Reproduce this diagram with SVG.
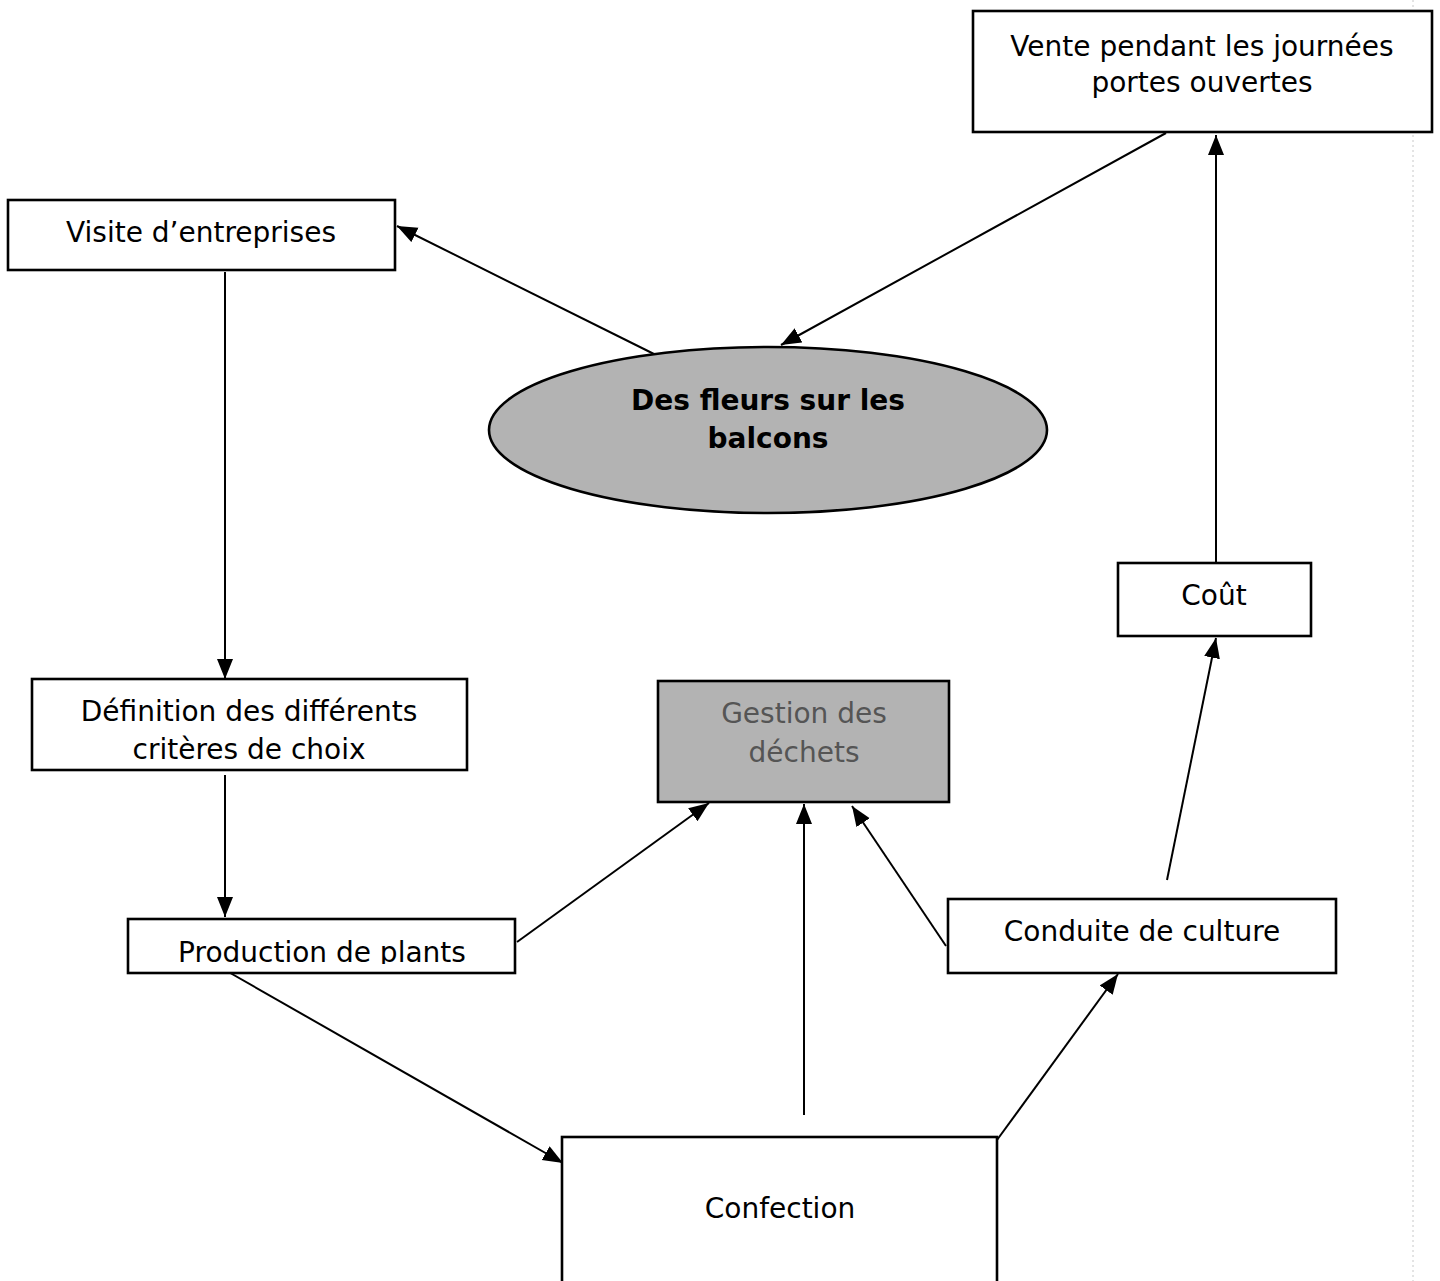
<svg xmlns="http://www.w3.org/2000/svg" width="1440" height="1281" viewBox="0 0 1440 1281">
<style>
.box{fill:#fff;stroke:#000;stroke-width:2.6}
.grey{fill:#b3b3b3;stroke:#000;stroke-width:2.6}
.t{font-family:"DejaVu Sans",Verdana,sans-serif;font-size:28px;fill:#000;text-anchor:middle}
.b{font-weight:bold}
.g{fill:#555}
.c{fill:none;stroke:#000;stroke-width:2;marker-end:url(#ah)}
</style>
<defs>
<marker id="ah" markerUnits="userSpaceOnUse" markerWidth="22" markerHeight="18" refX="20" refY="8" orient="auto">
<path d="M0,0 L20,8 L0,16 z" fill="#000"/>
</marker>
<clipPath id="prodclip"><rect x="128" y="919" width="387" height="45"/></clipPath>
</defs>
<rect width="1440" height="1281" fill="#fff"/>
<line x1="1413" y1="0" x2="1413" y2="1281" stroke="#c8c8c8" stroke-width="1" stroke-dasharray="2 3"/>

<g id="connectors">
<line class="c" x1="658" y1="356" x2="397" y2="226"/>
<line class="c" x1="1166" y1="133" x2="781" y2="345"/>
<line class="c" x1="225" y1="272" x2="225" y2="679"/>
<line class="c" x1="225" y1="775" x2="225" y2="917"/>
<line class="c" x1="517" y1="942" x2="709" y2="803"/>
<line class="c" x1="225" y1="970" x2="563" y2="1163"/>
<line class="c" x1="804" y1="1115" x2="804" y2="804"/>
<line class="c" x1="946" y1="946" x2="852" y2="806"/>
<line class="c" x1="997" y1="1140" x2="1118" y2="974"/>
<line class="c" x1="1167" y1="880" x2="1216" y2="638"/>
<line class="c" x1="1216" y1="562" x2="1216" y2="135"/>
</g>

<g id="vente">
<rect class="box" x="973" y="11" width="459" height="121"/>
<text class="t" x="1202" y="56">Vente pendant les journées</text>
<text class="t" x="1202" y="92">portes ouvertes</text>
</g>

<g id="visite">
<rect class="box" x="8" y="200" width="387" height="70"/>
<text class="t" x="201" y="242">Visite d’entreprises</text>
</g>

<g id="fleurs">
<ellipse class="grey" cx="768" cy="430" rx="279" ry="83"/>
<text class="t b" x="768" y="410">Des fleurs sur les</text>
<text class="t b" x="768" y="448">balcons</text>
</g>

<g id="definition">
<rect class="box" x="32" y="679" width="435" height="91"/>
<text class="t" x="249" y="721">Définition des différents</text>
<text class="t" x="249" y="759">critères de choix</text>
</g>

<g id="gestion">
<rect class="grey" x="658" y="681" width="291" height="121"/>
<text class="t g" x="804" y="723">Gestion des</text>
<text class="t g" x="804" y="762">déchets</text>
</g>

<g id="cout">
<rect class="box" x="1118" y="563" width="193" height="73"/>
<text class="t" x="1214" y="605">Coût</text>
</g>

<g id="production">
<rect class="box" x="128" y="919" width="387" height="54"/>
<text class="t" x="322" y="962" clip-path="url(#prodclip)">Production de plants</text>
</g>

<g id="conduite">
<rect class="box" x="948" y="899" width="388" height="74"/>
<text class="t" x="1142" y="941">Conduite de culture</text>
</g>

<g id="confection">
<rect class="box" x="562" y="1137" width="435" height="160"/>
<text class="t" x="780" y="1218">Confection</text>
</g>
</svg>
